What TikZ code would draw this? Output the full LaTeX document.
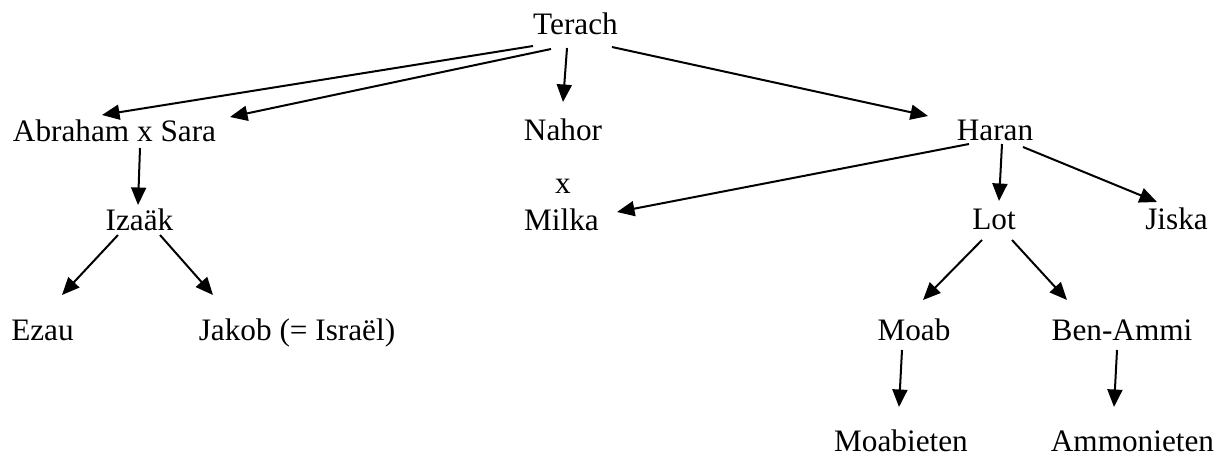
\documentclass[tikz,border=0pt]{standalone}
\usepackage{fontspec}
\setmainfont{Liberation Serif}
\usetikzlibrary{arrows.meta}

\begin{document}
\begin{tikzpicture} [x = 0.4pt, y = 0.4pt,
  every node/.style = {anchor = base, inner sep = 0pt, font = \fontsize{12.5pt}{15pt}\selectfont},
  arr/.style = {line width = 0.8pt, -{Triangle[length = 7pt, width = 6pt]}}]
\useasboundingbox (0,0) rectangle (1226,-454);
\node(terach) at (575.5,-34) {Terach};
\node(abr) at (114.5,-141) {Abraham x Sara};
\node(nahor) at (563,-140) {Nahor};
\node(haran) at (995,-140) {Haran};
\node(xx) at (563,-193) {x};
\node(milka) at (561.5,-230) {Milka};
\node(izaak) at (139.5,-230) {Izaäk};
\node(lot) at (994,-229) {Lot};
\node(jiska) at (1176.5,-229) {Jiska};
\node(ezau) at (42.5,-340) {Ezau};
\node(jakob) at (297,-340) {Jakob (= Israël)};
\node(moab) at (914,-340) {Moab};
\node(benammi) at (1122,-340) {Ben-Ammi};
\node(moabieten) at (901,-451) {Moabieten};
\node(ammonieten) at (1132.5,-451) {Ammonieten};
\draw[arr] ([shift={(-42.5,-12)}]terach.base) -- ([shift={(-12.5,26)}]abr.base);
\draw[arr] ([shift={(-24.5,-15)}]terach.base) -- ([shift={(115.5,24)}]abr.base);
\draw[arr] ([shift={(-8.5,-14)}]terach.base) -- ([shift={(0,38)}]nahor.base);
\draw[arr] ([shift={(36.5,-13)}]terach.base) -- ([shift={(-67,24)}]haran.base);
\draw[arr] ([shift={(25.5,-7)}]abr.base) -- ([shift={(-1.5,25)}]izaak.base);
\draw[arr] ([shift={(-21.5,-5)}]izaak.base) -- ([shift={(19.5,45)}]ezau.base);
\draw[arr] ([shift={(20.5,-5)}]izaak.base) -- ([shift={(-84,45)}]jakob.base);
\draw[arr] ([shift={(-26,-4)}]haran.base) -- ([shift={(55.5,18)}]milka.base);
\draw[arr] ([shift={(7,-4)}]haran.base) -- ([shift={(5,28)}]lot.base);
\draw[arr] ([shift={(28,-7)}]haran.base) -- ([shift={(-19.5,27)}]jiska.base);
\draw[arr] ([shift={(-12,-11)}]lot.base) -- ([shift={(9,40)}]moab.base);
\draw[arr] ([shift={(18,-11)}]lot.base) -- ([shift={(-55,40)}]benammi.base);
\draw[arr] ([shift={(-12,-10)}]moab.base) -- ([shift={(-2,44)}]moabieten.base);
\draw[arr] ([shift={(-5,-10)}]benammi.base) -- ([shift={(-18.5,44)}]ammonieten.base);
\end{tikzpicture}
\end{document}
